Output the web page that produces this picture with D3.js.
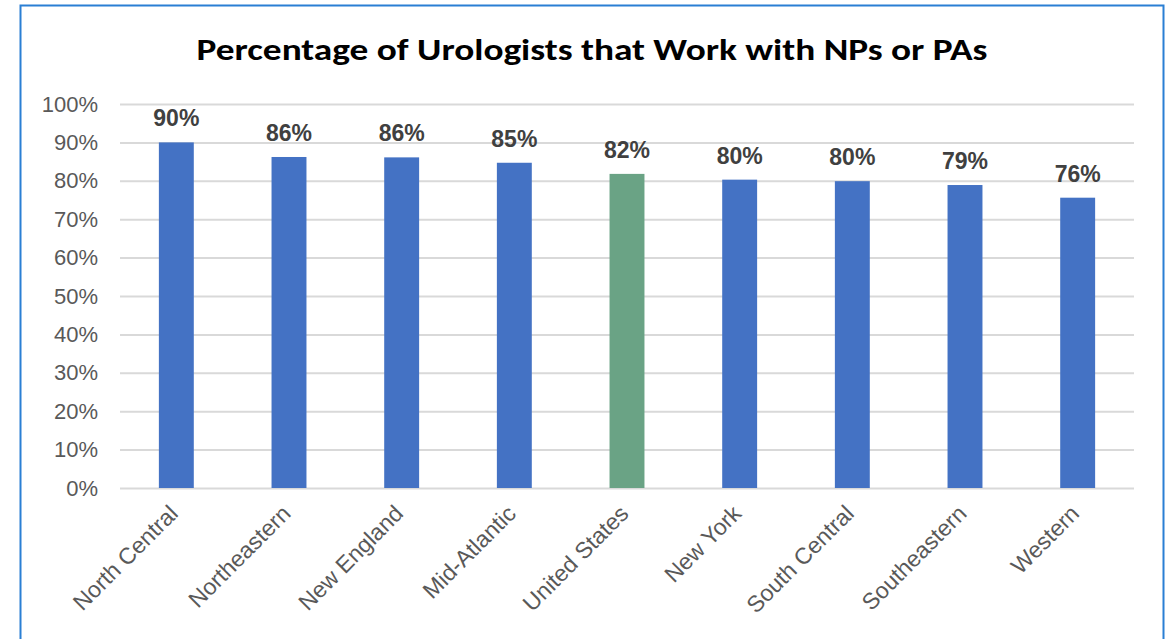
<!DOCTYPE html>
<html>
<head>
<meta charset="utf-8">
<script src="https://cdn.jsdelivr.net/npm/d3@7"></script>
<style>
  body { margin: 0; background: #fff; }
  svg { display: block; }
</style>
</head>
<body>
<svg></svg>
<script>
const regions = ["North Central", "Northeastern", "New England", "Mid-Atlantic", "United States",
    "New York", "South Central", "Southeastern", "Western"];
const shares = [0.90, 0.862, 0.861, 0.847, 0.818, 0.803, 0.799, 0.789, 0.756];
const yTicks = [0, 0.1, 0.2, 0.3, 0.4, 0.5, 0.6, 0.7, 0.8, 0.9, 1.0];

const width = 1173, height = 639;
const margin = {left: 120, right: 39, top: 104, bottom: 151};

const svg = d3.select('svg')
    .attr('width', width)
    .attr('height', height);

// chart frame (bottom edge is cut off in the original)
svg.append('path')
    .attr('d', `M20.5,${height + 5} V5.5 H1163.5 V${height + 5}`)
    .attr('fill', 'none')
    .attr('stroke', '#2a7fd4')
    .attr('stroke-width', 2);

svg.append('text')
    .attr('x', 592)
    .attr('y', 60)
    .attr('text-anchor', 'middle')
    .attr('font-family', 'Carlito, "Open Sans", "Liberation Sans", sans-serif')
    .attr('font-weight', 'bold')
    .attr('font-size', 31)
    .attr('textLength', 791)
    .attr('lengthAdjust', 'spacingAndGlyphs')
    .attr('fill', '#000')
    .text('Percentage of Urologists that Work with NPs or PAs');

const x = d3.scaleBand()
    .domain(regions)
    .range([margin.left, width - margin.right])
    .paddingInner(0.69)
    .paddingOuter(0.345);

const y = d3.scaleLinear()
    .domain([0, 1])
    .range([height - margin.bottom, margin.top]);

const g = svg.append('g');

// gridlines + y labels
const yAxis = g.append('g')
    .attr('transform', `translate(${margin.left},0)`)
    .call(d3.axisLeft(y)
        .tickValues(yTicks)
        .tickSize(-(width - margin.left - margin.right))
        .tickPadding(22)
        .tickFormat(d3.format('.0%')));
yAxis.select('.domain').remove();
yAxis.selectAll('line')
    .attr('stroke', '#d9d9d9')
    .attr('stroke-width', 2);
yAxis.selectAll('text')
    .attr('font-family', '"Liberation Sans", Arial, sans-serif')
    .attr('font-size', 22)
    .attr('fill', '#595959');

// bars
g.selectAll('rect.bar')
    .data(regions)
    .join('rect')
    .attr('class', 'bar')
    .attr('x', d => x(d))
    .attr('width', x.bandwidth())
    .attr('y', (d, i) => y(shares[i]))
    .attr('height', (d, i) => y(0) - y(shares[i]))
    .attr('fill', d => d === 'United States' ? '#6aa385' : '#4472c4');

// value labels
g.selectAll('text.val')
    .data(regions)
    .join('text')
    .attr('class', 'val')
    .attr('x', d => x(d) + x.bandwidth() / 2)
    .attr('y', (d, i) => y(shares[i]) - 16)
    .attr('text-anchor', 'middle')
    .attr('font-family', '"Liberation Sans", Arial, sans-serif')
    .attr('font-weight', 'bold')
    .attr('font-size', 23)
    .attr('fill', '#404040')
    .text((d, i) => d3.format('.0%')(shares[i]));

// category labels
const xAxis = g.append('g')
    .attr('transform', `translate(0,${height - margin.bottom})`)
    .call(d3.axisBottom(x).tickSize(0).tickPadding(0));
xAxis.select('.domain').remove();
xAxis.selectAll('text')
    .attr('font-family', '"Liberation Sans", Arial, sans-serif')
    .attr('font-size', 23)
    .attr('fill', '#595959')
    .attr('text-anchor', 'end')
    .attr('dy', null)
    .attr('transform', 'translate(3,27) rotate(-45)');
</script>
</body>
</html>
